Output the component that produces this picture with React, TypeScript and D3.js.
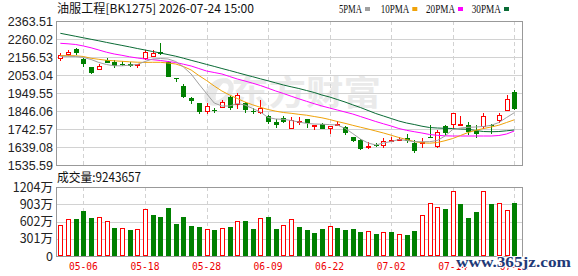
import React from 'react';
import * as d3 from 'd3';

const dates = [
  '04-28','04-29','04-30','05-06','05-07','05-08','05-11','05-12','05-13','05-14',
  '05-15','05-18','05-19','05-20','05-21','05-22','05-25','05-26','05-27','05-28',
  '05-29','06-01','06-02','06-03','06-04','06-05','06-08','06-09','06-10','06-11',
  '06-12','06-15','06-16','06-17','06-18','06-22','06-23','06-24','06-25','06-26',
  '06-29','06-30','07-01','07-02','07-03','07-06','07-07','07-08','07-09','07-10',
  '07-13','07-14','07-15','07-16','07-17','07-20','07-21','07-22','07-23','07-24',
];

const opens = [
  2146.7, 2168.0, 2202.5, 2145.0, 2097.3, 2081.8, 2139.3, 2127.8, 2118.0, 2116.3,
  2110.5, 2145.0, 2159.4, 2188.1, 2127.8, 2036.5, 1992.6, 1920.8, 1890.3, 1842.0,
  1852.9, 1865.0, 1928.2, 1880.5, 1893.7, 1844.4, 1832.8, 1817.3, 1784.5, 1804.0,
  1740.8, 1781.6, 1798.3, 1762.6, 1769.5, 1740.8, 1762.6, 1754.0, 1694.8, 1679.3,
  1639.1, 1650.5, 1644.7, 1669.5, 1675.3, 1693.0, 1664.9, 1654.5, 1697.6, 1641.0,
  1757.5, 1765.5, 1767.2, 1765.5, 1731.0, 1754.0, 1765.5, 1790.0, 1847.8, 1957.0,
];
const highs = [
  2179.5, 2196.8, 2208.3, 2150.8, 2099.0, 2116.0, 2153.6, 2137.5, 2131.8, 2126.0,
  2119.0, 2199.6, 2199.6, 2237.0, 2131.8, 2037.0, 2004.1, 1929.4, 1893.7, 1890.3,
  1865.0, 1909.3, 1932.3, 1947.8, 1899.5, 1861.5, 1909.3, 1823.0, 1798.3, 1817.3,
  1813.5, 1809.8, 1801.7, 1765.5, 1775.3, 1762.6, 1788.5, 1758.1, 1696.5, 1685.0,
  1669.5, 1660.2, 1689.0, 1698.3, 1698.3, 1711.0, 1677.6, 1689.0, 1765.5, 1736.8,
  1765.5, 1834.5, 1820.1, 1781.0, 1767.2, 1832.8, 1773.0, 1837.4, 1938.0, 1966.8,
];
const lows = [
  2131.8, 2164.0, 2169.7, 2100.7, 2061.6, 2079.0, 2120.0, 2093.3, 2106.5, 2097.3,
  2091.5, 2142.0, 2156.5, 2169.7, 2039.8, 2012.8, 1919.0, 1884.5, 1827.0, 1828.8,
  1836.3, 1861.5, 1851.8, 1855.8, 1832.8, 1828.8, 1831.6, 1771.3, 1751.1, 1775.0,
  1739.7, 1765.5, 1746.5, 1736.8, 1740.8, 1713.8, 1762.6, 1708.0, 1669.5, 1621.8,
  1625.7, 1637.3, 1636.0, 1666.0, 1673.5, 1664.0, 1604.5, 1631.5, 1689.0, 1636.1,
  1710.9, 1751.1, 1765.5, 1710.9, 1689.0, 1742.5, 1713.8, 1777.0, 1847.8, 1851.8,
];
const closes = [
  2169.7, 2187.0, 2179.5, 2118.0, 2067.4, 2107.4, 2123.7, 2106.5, 2116.0, 2103.0,
  2118.0, 2185.3, 2179.5, 2176.6, 2044.4, 2034.5, 1929.4, 1903.5, 1840.3, 1874.8,
  1850.0, 1897.8, 1861.5, 1938.0, 1851.8, 1841.6, 1866.1, 1784.5, 1765.5, 1784.5,
  1794.3, 1787.4, 1775.3, 1765.5, 1745.4, 1759.8, 1771.3, 1719.5, 1673.5, 1627.5,
  1647.6, 1648.7, 1672.0, 1679.3, 1683.5, 1673.5, 1616.0, 1670.6, 1691.8, 1722.6,
  1717.3, 1832.8, 1771.3, 1727.0, 1716.6, 1820.1, 1758.0, 1821.3, 1913.9, 1855.8,
];

// volume in 万 (10k)
const volumes = [
  538, 643, 648, 787, 665, 677, 608, 492, 486, 457,
  469, 816, 717, 683, 839, 561, 683, 526, 509, 469,
  457, 486, 509, 608, 613, 474, 660, 683, 474, 538,
  643, 509, 457, 405, 474, 521, 492, 457, 474, 422,
  434, 387, 417, 422, 382, 370, 439, 712, 921, 851,
  822, 1129, 908, 665, 769, 1129, 908, 921, 799, 924.3657,
];
// 1 = up day (red), 0 = down day (green)
const volUp = [
  1, 1, 0, 0, 0, 1, 1, 0, 1, 0,
  1, 1, 0, 0, 0, 0, 0, 0, 0, 1,
  0, 1, 0, 1, 0, 0, 1, 0, 0, 1,
  1, 0, 0, 0, 0, 1, 0, 0, 0, 0,
  1, 0, 1, 0, 1, 0, 0, 1, 1, 1,
  0, 1, 0, 0, 0, 1, 0, 1, 1, 0,
];

const ma5 = [
  2160.5, 2160.5, 2159.4, 2153.6, 2142.1, 2124.9, 2113.4, 2105.9, 2105.9, 2109.4,
  2113.4, 2130.6, 2145.0, 2147.9, 2145.0, 2130.6, 2099.0, 2058.8, 2001.3, 1946.6,
  1892.0, 1874.8, 1874.8, 1889.1, 1880.5, 1860.4, 1840.3, 1808.6, 1800.0, 1798.3,
  1791.4, 1782.8, 1774.7, 1771.3, 1770.1, 1767.8, 1765.5, 1746.5, 1716.6, 1684.9,
  1662.0, 1650.5, 1662.0, 1670.6, 1682.1, 1676.4, 1669.5, 1669.5, 1669.5, 1676.4,
  1702.3, 1739.6, 1748.3, 1752.3, 1754.0, 1756.9, 1763.8, 1779.9, 1808.6, 1836.2,
];
const ma10 = [
  2165.1, 2164.6, 2163.4, 2159.4, 2149.0, 2143.3, 2137.5, 2134.7, 2131.8, 2128.9,
  2126.6, 2125.4, 2126.0, 2126.0, 2122.0, 2116.3, 2101.9, 2081.8, 2050.1, 2021.4,
  1989.8, 1961.0, 1938.0, 1917.9, 1897.8, 1881.6, 1867.3, 1854.6, 1844.9, 1837.4,
  1832.8, 1827.0, 1821.9, 1814.4, 1806.9, 1797.1, 1785.6, 1775.3, 1763.8, 1752.9,
  1742.5, 1731.0, 1719.5, 1706.9, 1693.6, 1682.1, 1670.6, 1663.1, 1660.9, 1664.9,
  1675.2, 1687.9, 1705.1, 1722.4, 1735.0, 1745.4, 1754.0, 1764.4, 1779.9, 1795.4,
];
const ma20 = [
  2235.3, 2232.4, 2228.4, 2219.8, 2209.4, 2196.8, 2184.1, 2173.8, 2166.3, 2157.7,
  2150.8, 2145.0, 2141.0, 2136.4, 2130.6, 2124.9, 2115.1, 2104.8, 2090.4, 2076.0,
  2067.4, 2058.8, 2044.4, 2030.0, 2018.5, 2005.9, 1992.6, 1977.1, 1961.0, 1946.6,
  1931.1, 1916.2, 1901.8, 1888.0, 1874.8, 1863.3, 1851.8, 1840.3, 1828.8, 1814.4,
  1800.0, 1785.6, 1772.4, 1759.8, 1745.4, 1735.0, 1727.0, 1719.5, 1710.9, 1706.3,
  1703.4, 1702.3, 1702.3, 1702.3, 1702.3, 1702.3, 1702.3, 1705.1, 1713.8, 1731.0,
];
const ma30 = [
  2292.8, 2284.2, 2275.5, 2266.9, 2258.3, 2249.6, 2240.5, 2231.8, 2223.2, 2214.6,
  2205.4, 2196.8, 2188.1, 2179.5, 2170.3, 2161.1, 2149.6, 2137.5, 2126.0, 2114.0,
  2102.5, 2090.4, 2078.9, 2066.8, 2054.7, 2043.2, 2031.2, 2019.7, 2007.6, 1995.5,
  1985.2, 1975.4, 1963.9, 1952.4, 1938.0, 1926.5, 1912.1, 1897.8, 1881.6, 1866.1,
  1848.9, 1831.6, 1817.3, 1802.9, 1788.5, 1777.0, 1768.4, 1758.6, 1751.1, 1748.3,
  1746.5, 1745.4, 1742.5, 1740.8, 1733.9, 1728.1, 1726.9, 1728.1, 1732.2, 1736.8,
];

const priceTicks = [2363.51, 2260.02, 2156.53, 2053.04, 1949.55, 1846.06, 1742.57, 1639.08, 1535.59];
const volTicks = [0, 301, 602, 903, 1204];
const volTickLabels = ['0', '301万', '602万', '903万', '1204万'];
const xTickLabels = ['05-06', '05-18', '05-28', '06-09', '06-22', '07-02', '07-14', '07-24'];

const title = '油服工程[BK1275] 2026-07-24 15:00';
const volTitle = '成交量:9243657';
const legendItems = [
  { name: '5PMA', color: '#a0a0a0' },
  { name: '10PMA', color: '#f0a30a' },
  { name: '20PMA', color: '#ff00ff' },
  { name: '30PMA', color: '#0a6b35' },
];

const RED = '#ff0000';
const GREEN = '#008000';

export default function App() {
  const W = 578, H = 276;
  const L = 56, R = 522, T = 21, B = 165;
  const VT = 187, VB = 256.3;

  const x = d3.scaleBand<string>().domain(dates).range([56.5, 518.1]);
  const xc = (i: number) => (x(dates[i]) as number) + x.bandwidth() / 2;
  const y = d3.scaleLinear().domain([1535.59, 2363.51]).range([B, T]);
  const yv = d3.scaleLinear().domain([0, 1204]).range([VB, VT]);

  const line = (arr: number[]) =>
    d3.line<number>().x((_, i) => xc(i)).y((v) => y(v))(arr) || '';

  const px = (v: number) => Math.round(v) + 0.5;
  const gridColor = '#d2d2d2';
  const frameColor = '#999999';
  const sans = '"Liberation Sans", Arial, sans-serif';
  const cjk = '"Noto Sans CJK SC", "Liberation Sans", sans-serif';

  const tickIdx = xTickLabels.map((l) => dates.indexOf(l));

  return (
    <svg width={W} height={H} style={{ position: 'fixed', left: 0, top: 0, background: '#fff' }}>
      <rect x={0} y={0} width={W} height={H} fill="#ffffff" />
      {/* watermark */}
      <g opacity={1}>
        <path d="M 208 104 C 200 96, 210 80, 228 78 C 222 84, 214 92, 216 100 Z" fill="#e9e9e9" />
        <ellipse cx={219} cy={92} rx={14} ry={9} transform="rotate(-40 219 92)" fill="none" stroke="#e9e9e9" strokeWidth={5} />
        <text x={231} y={105} fontSize={34} fontWeight="bold" fill="#eaeaea" fontFamily={cjk} textLength={150} lengthAdjust="spacingAndGlyphs">东方财富</text>
      </g>

      {/* main panel grid */}
      {priceTicks.map((t, k) => (
        <line key={'hg' + k} x1={L} x2={R} y1={px(y(t))} y2={px(y(t))} stroke={gridColor} strokeWidth={1} />
      ))}
      {tickIdx.map((idx, k) => (
        <line key={'vg' + k} x1={px(xc(idx))} x2={px(xc(idx))} y1={T} y2={B} stroke={gridColor} strokeWidth={1} strokeDasharray="4,3" />
      ))}
      <rect x={L + 0.5} y={px(T)} width={R - L} height={Math.round(B) - Math.round(T)} fill="none" stroke={frameColor} strokeWidth={1} />

      {/* volume panel grid */}
      {volTicks.map((t, k) => (
        <line key={'vh' + k} x1={L} x2={R} y1={px(yv(t))} y2={px(yv(t))} stroke={gridColor} strokeWidth={1} />
      ))}
      {tickIdx.map((idx, k) => (
        <line key={'vv' + k} x1={px(xc(idx))} x2={px(xc(idx))} y1={VT} y2={VB} stroke={gridColor} strokeWidth={1} strokeDasharray="4,3" />
      ))}
      <rect x={L + 0.5} y={px(VT)} width={R - L} height={Math.round(VB) - Math.round(VT)} fill="none" stroke={frameColor} strokeWidth={1} />

      {/* candles */}
      {dates.map((d, i) => {
        const o = opens[i], c = closes[i], h = highs[i], l = lows[i];
        const up = c >= o;
        const cx = Math.round(xc(i));
        const yTop = Math.round(y(Math.max(o, c)));
        const yBot = Math.round(y(Math.min(o, c)));
        const yH = Math.round(y(h));
        const yL = Math.round(y(l));
        const color = up ? RED : GREEN;
        const bodyH = yBot - yTop;
        if (bodyH < 1) {
          return (
            <g key={d}>
              <line x1={cx + 0.5} x2={cx + 0.5} y1={yH} y2={yL} stroke={color} />
              <line x1={cx - 2} x2={cx + 3} y1={yTop + 0.5} y2={yTop + 0.5} stroke={color} />
            </g>
          );
        }
        if (up) {
          return (
            <g key={d}>
              <line x1={cx + 0.5} x2={cx + 0.5} y1={yH} y2={yTop} stroke={color} />
              <line x1={cx + 0.5} x2={cx + 0.5} y1={yBot} y2={yL} stroke={color} />
              <rect x={cx - 1.5} y={yTop + 0.5} width={4} height={Math.max(1, bodyH - 1)} fill="#fff" stroke={color} strokeWidth={1} />
            </g>
          );
        }
        return (
          <g key={d}>
            <line x1={cx + 0.5} x2={cx + 0.5} y1={yH} y2={yL} stroke={color} />
            <rect x={cx - 2} y={yTop} width={5} height={bodyH} fill={color} />
          </g>
        );
      })}

      {/* moving averages */}
      <path d={line(ma30)} fill="none" stroke={legendItems[3].color} strokeWidth={1} />
      <path d={line(ma20)} fill="none" stroke={legendItems[2].color} strokeWidth={1} />
      <path d={line(ma10)} fill="none" stroke={legendItems[1].color} strokeWidth={1} />
      <path d={line(ma5)} fill="none" stroke={legendItems[0].color} strokeWidth={1} />

      {/* volume bars */}
      {dates.map((d, i) => {
        const cx = Math.round(xc(i));
        const yTop = Math.round(yv(volumes[i]));
        const yBot = Math.round(VB) - 1;
        if (volUp[i]) {
          return <rect key={'v' + d} x={cx - 1.5} y={yTop + 0.5} width={4} height={yBot - yTop} fill="#fff" stroke={RED} strokeWidth={1} />;
        }
        return <rect key={'v' + d} x={cx - 2} y={yTop} width={5} height={yBot - yTop + 1} fill={GREEN} />;
      })}

      {/* y labels */}
      {priceTicks.map((t, k) => (
        <text key={'pl' + k} x={53} y={y(t) + 4.5} textAnchor="end" fontSize={12.5} fontFamily={sans} fill="#222">{t.toFixed(2)}</text>
      ))}
      {volTicks.map((t, k) => (
        <text key={'vl' + k} x={53} y={yv(t) + 4.5} textAnchor="end" fontSize={12.5} fontFamily={cjk} fill="#222">{volTickLabels[k]}</text>
      ))}

      {/* x labels */}
      {tickIdx.map((idx, k) => (
        <text key={'xl' + k} x={xc(idx)} y={270} textAnchor="middle" fontSize={11} fontFamily='"DejaVu Sans Mono", monospace' fill="#ee0000" textLength={29} lengthAdjust="spacingAndGlyphs">{xTickLabels[k]}</text>
      ))}

      {/* titles */}
      <text x={57} y={13} fontSize={12} fontFamily={cjk} fill="#111" textLength={197} lengthAdjust="spacingAndGlyphs">{title}</text>
      <text x={57} y={182} fontSize={12.5} fontFamily={cjk} fill="#111" textLength={84} lengthAdjust="spacingAndGlyphs">{volTitle}</text>

      {/* legend */}
      {(() => {
        const starts = [339, 380.7, 426, 471.7];
        const widths = [23, 28.6, 29, 29.3];
        return legendItems.map((it, k) => (
          <g key={it.name}>
            <text x={starts[k]} y={12.5} fontSize={12} fontFamily='"Liberation Serif", serif' fill="#111" textLength={widths[k]} lengthAdjust="spacingAndGlyphs">{it.name}</text>
            <rect x={starts[k] + widths[k] + 3} y={7} width={5} height={4} fill={it.color} />
          </g>
        ));
      })()}

      {/* site watermark */}
      <text x={456} y={267} fontSize={15} fontWeight="bold" fontFamily='"Liberation Serif", serif' fill="#1f3a78" stroke="#ffffff" strokeWidth={2} paintOrder="stroke" textLength={115} lengthAdjust="spacingAndGlyphs">www.365jz.com</text>
    </svg>
  );
}
